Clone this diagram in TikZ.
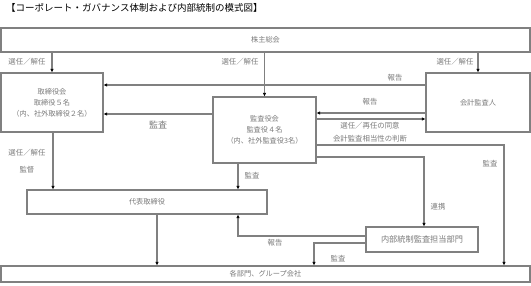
\documentclass[tikz,border=0pt]{standalone}
\usepackage{fontspec}
\setmainfont{Noto Sans CJK JP}
\usetikzlibrary{arrows.meta}
\definecolor{linegray}{HTML}{808080}
\definecolor{txtgray}{HTML}{7A7A7A}
\tikzset{
  boxnode/.style={draw=linegray, line width=1.1pt, rectangle, inner sep=0pt, font=\fontsize{7.2}{11}\selectfont, text=txtgray, align=center},
  conn/.style={draw=linegray, line width=1.1pt},
  arr/.style={conn, -{Latex[length=3.5pt,width=3.5pt,color=black]}},
  lbl/.style={font=\fontsize{7.4}{8}\selectfont, text=txtgray, inner sep=0pt},
  biglbl/.style={font=\fontsize{9}{10}\selectfont, text=txtgray, inner sep=0pt}
}
\begin{document}
\begin{tikzpicture}[x=1pt,y=-1pt]
\useasboundingbox (0,0) rectangle (531,285);
\node[anchor=west, font=\fontsize{9.5}{10}\selectfont, inner sep=0pt] (title) at (6,8) {【コーポレート・ガバナンス体制および内部統制の模式図】};

\node[boxnode, minimum width=529pt, minimum height=24pt] (kabu) at (265.5,40) {株主総会};
\node[boxnode, minimum width=102pt, minimum height=59pt] (tori) at (52,102.5) {取締役会\\取締役５名\\（内、社外取締役２名）};
\node[boxnode, minimum width=103pt, minimum height=66pt] (kansa) at (264.5,130) {監査役会\\監査役４名\\（内、社外監査役3名）};
\node[boxnode, minimum width=104pt, minimum height=59pt] (kaikei) at (478,102.5) {会計監査人};
\node[boxnode, minimum width=240pt, minimum height=24pt] (daihyo) at (147,202) {代表取締役};
\node[boxnode, minimum width=112pt, minimum height=25pt, font=\fontsize{8.2}{10}\selectfont] (naibu) at (422,239.5) {内部統制監査担当部門};
\node[boxnode, minimum width=529pt, minimum height=16pt] (kaku) at (265.5,274) {各部門、グループ会社};

% from shareholders
\draw[arr] (tori.north |- kabu.south) -- (tori.north);
\draw[arr] (kansa.north |- kabu.south) -- (kansa.north);
\draw[arr] (kaikei.north |- kabu.south) -- (kaikei.north);
\node[lbl] (l1) at (27,62) {選任／解任};
\node[lbl] (l2) at (240,62) {選任／解任};
\node[lbl] (l3) at (455,62) {選任／解任};

% reports to board
\draw[arr] (kaikei.west |- 0,85) -- (tori.east |- 0,85);
\node[lbl] (l4) at (395,78) {報告};
\draw[arr] (kansa.west |- 0,114) -- (tori.east |- 0,114);
\node[biglbl] (l5) at (158,125) {監査};

% between kansa and kaikei
\draw[arr] (kaikei.west |- 0,113) -- (kansa.east |- 0,113);
\node[lbl] (l6) at (370,102) {報告};
\draw[arr] (kansa.east |- 0,119) -- (kaikei.west |- 0,119);
\node[lbl] (l7) at (370,126) {選任／再任の同意};
\node[lbl] (l8) at (370,139) {会計監査相当性の判断};

% kansa to departments / internal
\coordinate (c1) at (504,145);
\draw[arr] (kansa.east |- c1) -- (c1) -- (c1 |- kaku.north);
\node[lbl] (l9) at (490,164) {監査};
\coordinate (c2) at (424,157);
\draw[arr] (kansa.east |- c2) -- (c2) -- (c2 |- naibu.north);
\node[lbl] (l10) at (438,207) {連携};

% to daihyo
\draw[arr] (tori.south -| 53,0) -- (daihyo.north -| 53,0);
\node[lbl] (l11) at (27,153) {選任／解任};
\node[lbl] (l12) at (27,170) {監督};
\draw[arr] (kansa.south -| 238,0) -- (daihyo.north -| 238,0);
\node[lbl] (l13) at (252,176) {監査};

% daihyo to departments
\draw[arr] (daihyo.south -| 157,0) -- (kaku.north -| 157,0);

% naibu
\coordinate (c3) at (238,236);
\draw[arr] (naibu.west |- c3) -- (c3) -- (c3 |- daihyo.south);
\node[lbl] (l14) at (275,243) {報告};
\coordinate (c4) at (314,243);
\draw[arr] (naibu.west |- c4) -- (c4) -- (c4 |- kaku.north);
\node[lbl] (l15) at (338,259) {監査};
\end{tikzpicture}
\end{document}
